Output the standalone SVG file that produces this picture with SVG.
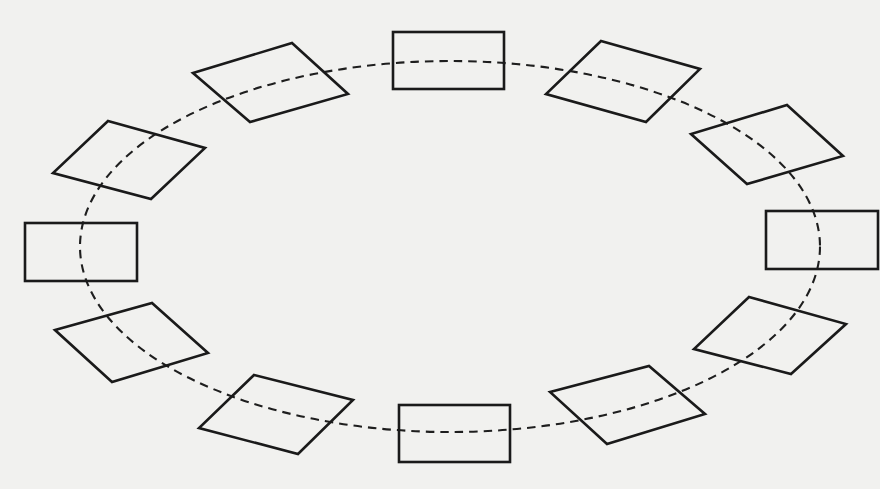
<svg xmlns="http://www.w3.org/2000/svg" width="880" height="489" viewBox="0 0 880 489">
<style>
.n{fill:none;stroke:#1a1a1a;stroke-width:2.6;stroke-linejoin:miter}
.c{fill:none;stroke:#1e1e1e;stroke-width:2.1;stroke-dasharray:8.5 6}
</style>
<rect width="880" height="489" fill="#f1f1ef"/>
<g id="connectors">
<ellipse class="c" cx="450" cy="246.5" rx="370" ry="185.5"/>
</g>
<g id="n1"><rect class="n" x="393" y="32" width="111" height="57"/></g>
<g id="n2"><polygon class="n" points="601,41 700,69 646,122 546,94"/></g>
<g id="n3"><polygon class="n" points="787,105 843,156 747,184 691,134"/></g>
<g id="n4"><rect class="n" x="766" y="211" width="112" height="58"/></g>
<g id="n5"><polygon class="n" points="749,297 846,324 791,374 694,349"/></g>
<g id="n6"><polygon class="n" points="550,392 649,366 705,414 607,444"/></g>
<g id="n7"><rect class="n" x="399" y="405" width="111" height="57"/></g>
<g id="n8"><polygon class="n" points="254,375 353,400 298,454 199,428"/></g>
<g id="n9"><polygon class="n" points="55,330 152,303 208,353 112,382"/></g>
<g id="n10"><rect class="n" x="25" y="223" width="112" height="58"/></g>
<g id="n11"><polygon class="n" points="108,121 205,148 151,199 53,173"/></g>
<g id="n12"><polygon class="n" points="193,73 292,43 348,94 250,122"/></g>
</svg>
